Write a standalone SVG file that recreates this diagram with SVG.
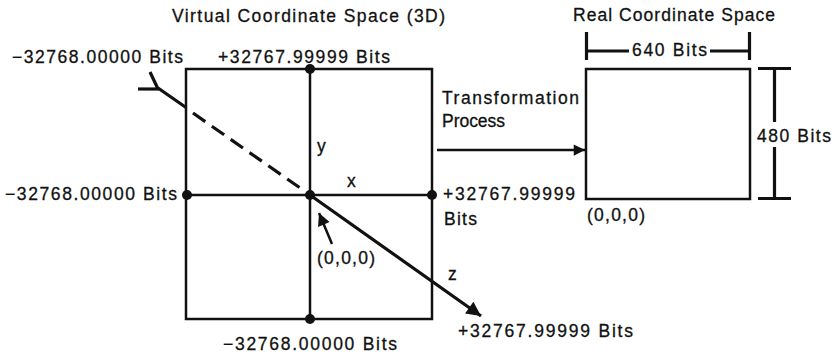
<svg xmlns="http://www.w3.org/2000/svg" width="836" height="355" viewBox="0 0 836 355">
<style>
  text { font-family: "Liberation Sans", Arial, Helvetica, sans-serif; font-size: 17.5px; fill: #111; stroke: #111; stroke-width: 0.3; }
  .ln { stroke: #111; stroke-width: 2.5; fill: none; }
  .thick { stroke: #111; stroke-width: 3.2; fill: none; }
  .dot { fill: #111; }
</style>
<defs>
  <marker id="head" viewBox="0 0 10 10" refX="10" refY="5" markerWidth="6" markerHeight="4.5" markerUnits="strokeWidth" orient="auto">
    <path d="M0,0 L10,5 L0,10 Z" fill="#111"/>
  </marker>
  <marker id="headS" viewBox="0 0 10 10" refX="10" refY="5" markerWidth="7" markerHeight="5" markerUnits="strokeWidth" orient="auto">
    <path d="M0,0 L10,5 L0,10 Z" fill="#111"/>
  </marker>
</defs>
<rect width="836" height="355" fill="#fff"/>

<g id="virtual-space">
  <text x="172" y="22" textLength="273" lengthAdjust="spacing">Virtual Coordinate Space (3D)</text>
  <rect class="ln" x="186" y="69" width="246" height="250"/>
  <line class="ln" x1="310" y1="69" x2="310" y2="319"/>
  <line class="ln" x1="186" y1="195" x2="432" y2="195"/>
  <circle class="dot" cx="310" cy="69" r="5"/>
  <circle class="dot" cx="187" cy="195" r="5"/>
  <circle class="dot" cx="310" cy="195" r="5"/>
  <circle class="dot" cx="432" cy="195" r="5"/>
  <circle class="dot" cx="310" cy="319" r="5"/>
  <text x="12" y="63" textLength="171" lengthAdjust="spacing">−32768.00000 Bits</text>
  <text x="218" y="63" textLength="172" lengthAdjust="spacing">+32767.99999 Bits</text>
  <text x="5" y="200" textLength="172" lengthAdjust="spacing">−32768.00000 Bits</text>
  <text x="443" y="200" textLength="132" lengthAdjust="spacing">+32767.99999</text>
  <text x="444" y="225" textLength="33" lengthAdjust="spacing">Bits</text>
  <text x="223" y="350" textLength="174" lengthAdjust="spacing">−32768.00000 Bits</text>
  <text x="458" y="337" textLength="175" lengthAdjust="spacing">+32767.99999 Bits</text>
  <text x="317" y="152">y</text>
  <text x="347" y="187">x</text>
  <text x="448" y="280">z</text>
  <text x="317" y="264" textLength="58" lengthAdjust="spacing">(0,0,0)</text>
  <!-- z axis -->
  <line class="thick" x1="158" y1="88" x2="186" y2="107.5"/>
  <line class="thick" x1="158" y1="89" x2="150" y2="72"/>
  <line class="thick" x1="159" y1="89" x2="138" y2="89"/>
  <line class="thick" x1="193" y1="113" x2="303" y2="190" stroke-dasharray="15 8"/>
  <line class="thick" x1="310" y1="195" x2="481" y2="316" marker-end="url(#head)"/>
  <line class="ln" x1="332" y1="244" x2="319" y2="213" marker-end="url(#headS)"/>
</g>

<g id="real-space">
  <text x="573" y="21" textLength="202" lengthAdjust="spacing">Real Coordinate Space</text>
  <rect class="ln" x="586" y="69" width="164" height="130"/>
  <line class="thick" x1="586.5" y1="32" x2="586.5" y2="60"/>
  <line class="thick" x1="749.5" y1="32" x2="749.5" y2="60"/>
  <line class="thick" x1="586" y1="51" x2="629" y2="51"/>
  <line class="thick" x1="710" y1="51" x2="750" y2="51"/>
  <text x="632" y="56" textLength="75" lengthAdjust="spacing">640 Bits</text>
  <line class="thick" x1="774.5" y1="68" x2="774.5" y2="122"/>
  <line class="thick" x1="774.5" y1="147" x2="774.5" y2="199"/>
  <line class="thick" x1="758" y1="68.5" x2="791" y2="68.5"/>
  <line class="thick" x1="758" y1="198.5" x2="791" y2="198.5"/>
  <text x="757" y="142" textLength="74" lengthAdjust="spacing">480 Bits</text>
  <text x="587" y="221" textLength="58" lengthAdjust="spacing">(0,0,0)</text>
</g>

<g id="connectors">
  <line class="ln" x1="437" y1="150" x2="585" y2="150" marker-end="url(#head)"/>
  <text x="442" y="104" textLength="137" lengthAdjust="spacing">Transformation</text>
  <text x="442" y="127" textLength="63" lengthAdjust="spacing">Process</text>
</g>
</svg>
